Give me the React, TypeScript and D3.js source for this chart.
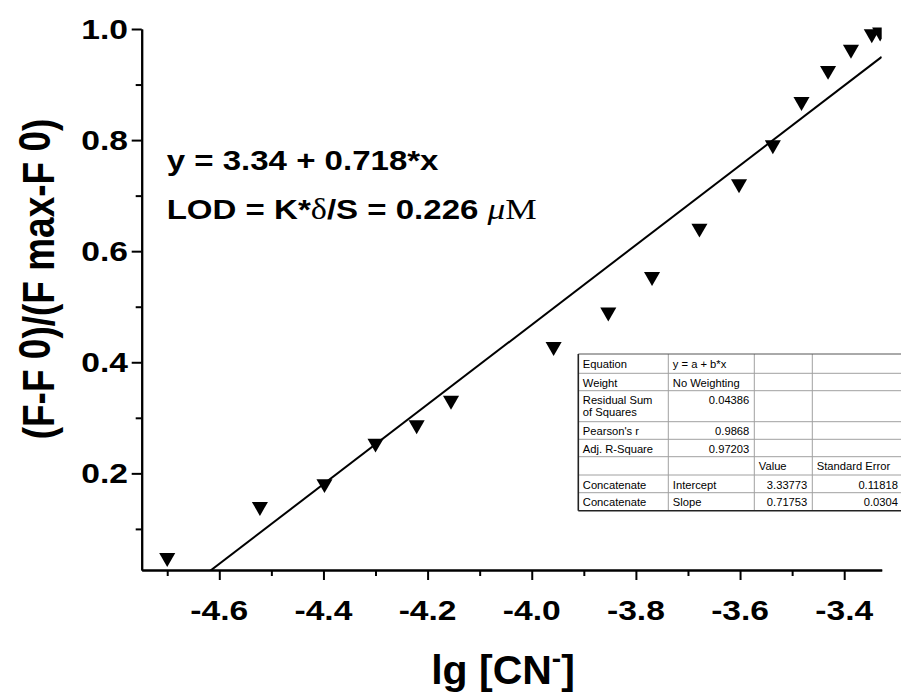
import React, { useRef, useEffect } from "react";
import * as d3 from "d3";

// lg[CN-] vs normalised fluorescence
const lgConc = [-4.70, -4.522, -4.398, -4.300, -4.221, -4.155, -3.958, -3.853, -3.769, -3.678, -3.602, -3.537, -3.482, -3.431, -3.387, -3.347, -3.331]
const ratio = [0.044, 0.136, 0.177, 0.250, 0.283, 0.327, 0.424, 0.486, 0.550, 0.637, 0.717, 0.787, 0.865, 0.921, 0.959, 0.987, 0.990]

// linear fit
const intercept = 3.33773
const slope = 0.71753

const xTicks = [-4.6, -4.4, -4.2, -4.0, -3.8, -3.6, -3.4]
const xMinor = [-4.7, -4.5, -4.3, -4.1, -3.9, -3.7, -3.5]
const yTicks = [0.2, 0.4, 0.6, 0.8, 1.0]
const yMinor = [0.1, 0.3, 0.5, 0.7, 0.9]

// fit report table
const colA = ["Equation", "Weight", "Residual Sum\nof Squares", "Pearson's r", "Adj. R-Square", "", "Concatenate", "Concatenate"]
const colB = ["y = a + b*x", "No Weighting", "0.04386", "0.9868", "0.97203", "", "Intercept", "Slope"]
const colC = ["", "", "", "", "", "Value", "3.33773", "0.71753"]
const colD = ["", "", "", "", "", "Standard Error", "0.11818", "0.0304"]

const SANS = "'Liberation Sans', Arial, sans-serif"
const SERIF = "'Liberation Serif', 'Times New Roman', serif"

const App = () => {
  const ref = useRef(null)

  useEffect(() => {
    const svg = d3.select(ref.current)
    svg.selectAll("*").remove()

    const left = 141.7, right = 881.7, top = 29, bottom = 570
    const x = d3.scaleLinear().domain([-4.749, -3.328]).range([left, right])
    const y = d3.scaleLinear().domain([0.026, 1.0]).range([bottom, top])
    const sx = 1.2 // horizontal stretch of the labels in the source image

    svg.append("defs").append("clipPath").attr("id", "plotClip")
      .append("rect").attr("x", left).attr("y", 0).attr("width", right - left).attr("height", bottom)

    // axes
    const xAxis = svg.append("g").attr("transform", `translate(0,${bottom})`)
    xAxis.call(d3.axisBottom(x).tickValues(xTicks).tickSize(10).tickSizeOuter(0).tickFormat(() => ""))
    const xAxisMinor = svg.append("g").attr("transform", `translate(0,${bottom})`)
    xAxisMinor.call(d3.axisBottom(x).tickValues(xMinor).tickSize(6).tickSizeOuter(0).tickFormat(() => ""))
    const yAxis = svg.append("g").attr("transform", `translate(${left},0)`)
    yAxis.call(d3.axisLeft(y).tickValues(yTicks).tickSize(10).tickSizeOuter(0).tickFormat(() => ""))
    const yAxisMinor = svg.append("g").attr("transform", `translate(${left},0)`)
    yAxisMinor.call(d3.axisLeft(y).tickValues(yMinor).tickSize(6).tickSizeOuter(0).tickFormat(() => ""))
    svg.selectAll(".domain").attr("stroke", "#000").attr("stroke-width", 2)
    svg.selectAll(".tick line").attr("stroke", "#000").attr("stroke-width", 2)

    // tick labels
    svg.append("g").selectAll("g").data(xTicks).join("g")
      .attr("transform", d => `translate(${x(d)},620) scale(${sx},1)`)
      .append("text")
      .attr("text-anchor", "middle")
      .attr("font-family", SANS).attr("font-weight", "bold").attr("font-size", 28)
      .text(d => d.toFixed(1))
    svg.append("g").selectAll("g").data(yTicks).join("g")
      .attr("transform", d => `translate(128,${y(d) + 10}) scale(${sx},1)`)
      .append("text")
      .attr("text-anchor", "end")
      .attr("font-family", SANS).attr("font-weight", "bold").attr("font-size", 28)
      .text(d => d.toFixed(1))

    // axis titles
    const xt = svg.append("text")
      .attr("x", 503).attr("y", 684).attr("text-anchor", "middle")
      .attr("font-family", SANS).attr("font-weight", "bold").attr("font-size", 41)
    xt.append("tspan").text("lg [CN")
    xt.append("tspan").attr("dy", -16).attr("font-size", 28).text("-")
    xt.append("tspan").attr("dy", 16).text("]")

    const yt = svg.append("text")
      .attr("transform", `translate(54,279) scale(${sx},1) rotate(-90)`)
      .attr("text-anchor", "middle")
      .attr("font-family", SANS).attr("font-weight", "bold").attr("font-size", 37)
    yt.append("tspan").text("(F-F ")
    yt.append("tspan").attr("dy", -3).text("0")
    yt.append("tspan").attr("dy", 3).text(")/(F max-F ")
    yt.append("tspan").attr("dy", -3).text("0")
    yt.append("tspan").attr("dy", 3).text(")")

    // fit line
    const line = d3.line<number>().x(d => x(d)).y(d => y(intercept + slope * d))
    svg.append("path")
      .attr("clip-path", "url(#plotClip)")
      .attr("d", line(x.domain()))
      .attr("fill", "none").attr("stroke", "#000").attr("stroke-width", 2)

    // data points, down triangles
    const tri = d3.symbol().type(d3.symbolTriangle).size(112)
    svg.append("g").attr("clip-path", "url(#plotClip)")
      .selectAll("path").data(lgConc).join("path")
      .attr("transform", (d, i) => `translate(${x(d)},${y(ratio[i]) - 2.3}) rotate(180)`)
      .attr("d", tri)
      .attr("fill", "#000")

    // equation annotation
    const ann = svg.append("g").attr("transform", `translate(166.7,0) scale(1.18,1)`)
      .attr("font-family", SANS).attr("font-weight", "bold").attr("font-size", 28)
    ann.append("text").attr("x", 0).attr("y", 170).text("y = 3.34 + 0.718*x")
    const lod = ann.append("text").attr("x", 0).attr("y", 219)
    lod.append("tspan").text("LOD = K*")
    lod.append("tspan").attr("font-family", SERIF).attr("font-weight", "normal").attr("font-size", 29).text("δ")
    lod.append("tspan").text("/S = 0.226 ")
    lod.append("tspan").attr("font-family", SERIF).attr("font-style", "italic").attr("font-weight", "normal").attr("font-size", 30).text("μ")
    lod.append("tspan").attr("font-family", SERIF).attr("font-weight", "normal").attr("font-size", 30).text("M")

    // fit table
    const colX = [578.3, 668.3, 754.3, 812.3, 903]
    const rowH = [19.3, 17.4, 31, 17.6, 17.4, 18.3, 17.7, 18]
    const rowY = [354]
    rowH.forEach(h => rowY.push(rowY[rowY.length - 1] + h))
    const tbl = svg.append("g").attr("font-family", SANS).attr("font-size", 11.2)
    tbl.append("rect").attr("x", colX[0]).attr("y", rowY[0]).attr("width", colX[4] - colX[0])
      .attr("height", rowY[rowY.length - 1] - rowY[0]).attr("fill", "#fff").attr("stroke", "none")
    rowY.slice(1, -1).forEach(ry => {
      tbl.append("line").attr("x1", colX[0]).attr("x2", colX[4]).attr("y1", ry).attr("y2", ry)
        .attr("stroke", "#a0a0a0").attr("stroke-width", 1)
    })
    colX.slice(1, 4).forEach(cx => {
      tbl.append("line").attr("x1", cx).attr("x2", cx).attr("y1", rowY[0]).attr("y2", rowY[rowY.length - 1])
        .attr("stroke", "#a0a0a0").attr("stroke-width", 1)
    })
    tbl.append("line").attr("x1", colX[0]).attr("x2", colX[4]).attr("y1", rowY[0]).attr("y2", rowY[0])
      .attr("stroke", "#555").attr("stroke-width", 1)
    tbl.append("line").attr("x1", colX[0]).attr("x2", colX[4]).attr("y1", rowY[8]).attr("y2", rowY[8])
      .attr("stroke", "#222").attr("stroke-width", 1.6)
    tbl.append("line").attr("x1", colX[0]).attr("x2", colX[0]).attr("y1", rowY[0]).attr("y2", rowY[8])
      .attr("stroke", "#222").attr("stroke-width", 1.6)

    const isNum = (s: string) => /^[0-9.]+$/.test(s)
    const cols = [colA, colB, colC, colD]
    cols.forEach((col, c) => {
      col.forEach((val, r) => {
        if (!val) return
        const lines = val.split("\n")
        lines.forEach((ln, k) => {
          const num = isNum(ln)
          tbl.append("text")
            .attr("x", num ? colX[c + 1] - 5 : colX[c] + 4.5)
            .attr("y", rowY[r] + 13.5 + k * 12)
            .attr("text-anchor", num ? "end" : "start")
            .attr("fill", "#000")
            .text(ln)
        })
      })
    })
  }, [])

  return (
    <svg ref={ref} width={901} height={696}
      style={{ position: "absolute", left: 0, top: 0, background: "#fff" }} />
  )
}

export default App
